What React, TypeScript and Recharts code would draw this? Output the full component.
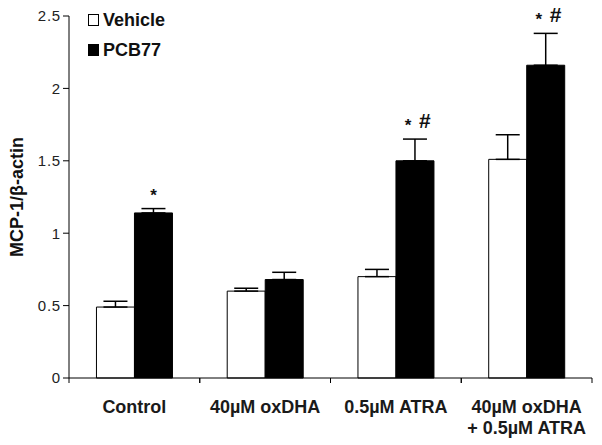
import React from "react";
import { BarChart, Bar, XAxis, YAxis, ErrorBar, LabelList } from "recharts";

const categories = ["Control", "40µM oxDHA", "0.5µM ATRA", "40µM oxDHA\n+ 0.5µM ATRA"];
const vehicle = [0.49, 0.6, 0.7, 1.51];
const vehicleErr = [0.04, 0.02, 0.05, 0.17];
const pcb77 = [1.14, 0.68, 1.5, 2.16];
const pcb77Err = [0.03, 0.05, 0.15, 0.22];
const marks = ["*", "", "* #", "* #"];
const yTicks = [0, 0.5, 1, 1.5, 2, 2.5];

const data = categories.map((name, i) => ({
  name,
  vehicle: vehicle[i],
  vehicleErr: [0, vehicleErr[i]],
  pcb77: pcb77[i],
  pcb77Err: [0, pcb77Err[i]],
  mark: marks[i],
}));

const FONT = "'Liberation Sans', Arial, sans-serif";
const PLOT_W = 602 - 69 - 10;

if (typeof document !== "undefined") document.body.style.margin = "0";

const XTick = (props: any) => {
  const { x, y, payload } = props;
  const half = PLOT_W / 8;
  const lines = String(payload.value).split("\n");
  return (
    <g>
      <line x1={x - half} y1={y - 8} x2={x - half} y2={y - 3} stroke="#000" />
      <line x1={x + half} y1={y - 8} x2={x + half} y2={y - 3} stroke="#000" />
      {lines.map((l, i) => (
        <text
          key={i}
          x={x}
          y={y + 27 + i * 21}
          textAnchor="middle"
          fontFamily={FONT}
          fontWeight="bold"
          fontSize={18}
          fill="#1a1a1a"
        >
          {l}
        </text>
      ))}
    </g>
  );
};

const MarkLabel = (props: any) => {
  const { x, y, width, height, value, index } = props;
  if (!value) return null;
  const perUnit = height / pcb77[index];
  const top = y - pcb77Err[index] * perUnit;
  const cx = x + width / 2;
  const hasHash = value.includes("#");
  return (
    <g fontFamily={FONT} fill="#111">
      <text x={hasHash ? cx - 7 : cx} y={top - 8} textAnchor="middle" fontSize={17} fontWeight="bold">
        *
      </text>
      {hasHash && (
        <text x={cx + 10} y={top - 11} textAnchor="middle" fontSize={21} fontWeight="bold">
          #
        </text>
      )}
    </g>
  );
};

export default function App() {
  return (
    <div style={{ width: 602, height: 445, background: "#fff", position: "relative" }}>
      <BarChart
        width={602}
        height={445}
        data={data}
        margin={{ top: 16, right: 10, bottom: 37, left: 0 }}
        barCategoryGap="21%"
        barGap={0}
      >
        <XAxis
          dataKey="name"
          axisLine={{ stroke: "#000" }}
          tickLine={false}
          tick={<XTick />}
          interval={0}
        />
        <YAxis
          width={69}
          domain={[0, 2.5]}
          ticks={yTicks}
          axisLine={{ stroke: "#000" }}
          tickLine={{ stroke: "#000" }}
          tickSize={6}
          tick={{ fontFamily: FONT, fontSize: 15, fill: "#222", letterSpacing: 0.8 }}
          label={{
            value: "MCP-1/β-actin",
            angle: -90,
            position: "insideLeft",
            offset: 17,
            style: { fontFamily: FONT, fontWeight: "bold", fontSize: 18, fill: "#111", textAnchor: "middle" },
          }}
        />
        <Bar dataKey="vehicle" fill="#fff" stroke="#000" strokeWidth={1} isAnimationActive={false}>
          <ErrorBar dataKey="vehicleErr" width={12} stroke="#000" strokeWidth={1.5} />
        </Bar>
        <Bar dataKey="pcb77" fill="#000" stroke="#000" strokeWidth={1} isAnimationActive={false}>
          <ErrorBar dataKey="pcb77Err" width={12} stroke="#000" strokeWidth={1.5} />
          <LabelList dataKey="mark" content={<MarkLabel />} />
        </Bar>
      </BarChart>
      <svg width={200} height={70} style={{ position: "absolute", left: 0, top: 0 }}>
        <rect x={88.5} y={14.5} width={10} height={11} fill="#fff" stroke="#000" />
        <text x={103} y={26} fontFamily={FONT} fontWeight="bold" fontSize={18} fill="#111">
          Vehicle
        </text>
        <rect x={88} y={44} width={11} height={12} fill="#000" />
        <text x={103} y={56} fontFamily={FONT} fontWeight="bold" fontSize={18} fill="#111">
          PCB77
        </text>
      </svg>
    </div>
  );
}
